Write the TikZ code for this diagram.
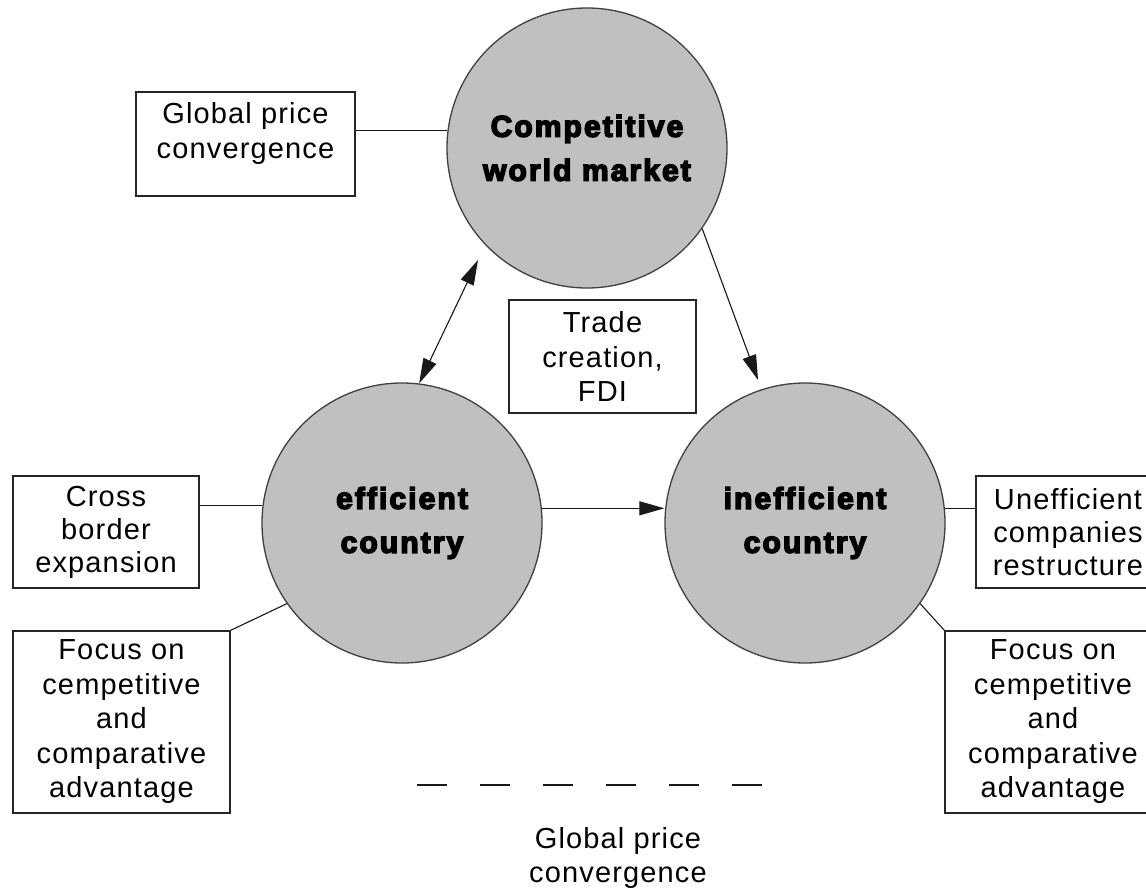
\documentclass[tikz,border=0pt]{standalone}
\usepackage{fontspec}
\setmainfont{Liberation Sans}
\newfontfamily\regfont[LetterSpace=4]{Liberation Sans}
\newfontfamily\heavyfont[LetterSpace=7,FakeBold=5]{Liberation Sans}
\usetikzlibrary{arrows.meta,calc}
\definecolor{circfill}{HTML}{C0C0C0}
\definecolor{circline}{HTML}{404040}
\definecolor{boxline}{HTML}{262626}
\begin{document}
\begin{tikzpicture}[x=1pt,y=-1pt,
  circ/.style={circle,draw=circline,fill=circfill,line width=1.3pt,minimum size=280pt,inner sep=0pt,align=center,font=\heavyfont\bfseries\fontsize{30}{44}\selectfont},
  tbox/.style={rectangle,draw=boxline,line width=1.4pt,inner sep=0pt,align=center,font=\regfont\fontsize{29}{34.5}\selectfont},
  tight/.style={font=\regfont\fontsize{29}{33}\selectfont},
  plain/.style={inner sep=0pt,align=center,font=\regfont\fontsize{29}{34.5}\selectfont},
  conn/.style={line width=1.1pt,draw=black!90},
  arr/.style={conn,-{Triangle[length=25pt,width=14pt]}},
  darr/.style={conn,{Triangle[length=25pt,width=14pt]}-{Triangle[length=25pt,width=14pt]}},
]
\useasboundingbox (0,0) rectangle (1146,889);
\clip (0,0) rectangle (1146,889);
\fill[white] (0,0) rectangle (1146,889);

% circles
\node[circ] (wm) at (587,148) {Competitive\\world market};
\node[circ] (eff) at (402,523) {efficient\\country};
\node[circ] (ineff) at (805,523) {inefficient\\country};

% boxes
\node[tbox,minimum width=219pt,minimum height=104pt] (gbox) at (245.5,144)
  {Global price\\convergence\rule[-27pt]{0pt}{27pt}};
\node[tbox,minimum width=187pt,minimum height=113pt] (trade) at (602.5,356.5)
  {Trade\\creation,\\FDI};
\node[tbox,tight,minimum width=186pt,minimum height=112pt] (cross) at (106,532)
  {Cross\\border\\expansion};
\node[tbox,minimum width=217pt,minimum height=182pt] (lfocus) at (121.5,722)
  {Focus on\\cempetitive\\and\\comparative\\advantage};
\node[tbox,tight,minimum width=184pt,minimum height=112pt] (unef) at (1068,532)
  {Unefficient\\companies\\restructure};
\node[tbox,minimum width=216pt,minimum height=182pt] (rfocus) at (1053,722)
  {Focus on\\cempetitive\\and\\comparative\\advantage};

\node[plain] (gpc) at (618,858) {Global price\\convergence};

% free ends
\coordinate (a1) at (478,260);
\coordinate (a2) at (758,380);
\coordinate (d1) at (417,785);
\coordinate (d2) at (762,785);

% connectors
\draw[darr] (eff.83.5) -- (a1);
\draw[arr] (wm.-35.2) -- (a2);
\draw[arr] (eff.6.6) -- (eff.6.6 -| ineff.west);
\draw[conn] (wm.173.8) -- (wm.173.8 -| gbox.east);
\draw[conn] (eff.173.4) -- (eff.173.4 -| cross.east);
\draw[conn] (ineff.6.6) -- (ineff.6.6 -| unef.west);
\draw[conn] (lfocus.north east) -- (eff.215.3);
\draw[conn] (rfocus.north west) -- (ineff.-35.3);
\draw[conn,dash pattern=on 30pt off 33pt] (d1) -- (d2);
\end{tikzpicture}
\end{document}
